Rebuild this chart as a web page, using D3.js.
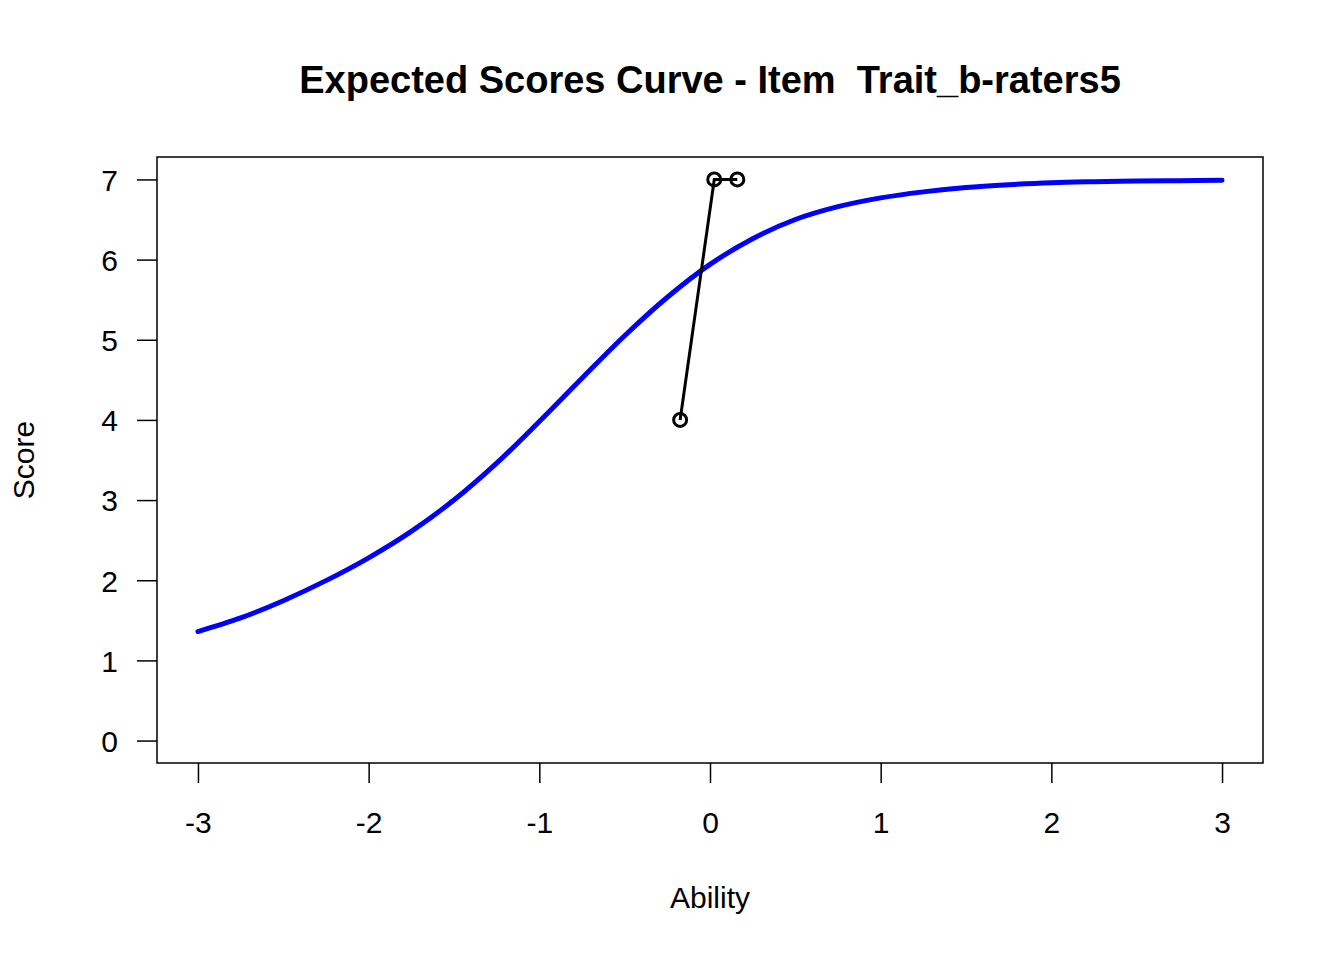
<!DOCTYPE html>
<html>
<head>
<meta charset="utf-8">
<script src="https://cdn.jsdelivr.net/npm/d3@7"></script>
<style>
  html, body { margin: 0; padding: 0; background: #fff; }
  svg { display: block; }
  text { font-family: "Liberation Sans", Arial, Helvetica, sans-serif; fill: #000; white-space: pre; }
</style>
</head>
<body>
<svg id="chart" width="1344" height="960"></svg>
<script>
// ---- Data ----
const chartTitle = "Expected Scores Curve - Item  Trait_b-raters5";
const xLabel = "Ability";
const yLabel = "Score";

// Model expected score curve (blue)
const curveAbility = [-3.0, -2.75, -2.5, -2.25, -2.0, -1.75, -1.5, -1.25, -1.0, -0.75, -0.5, -0.25,
                      0.0, 0.25, 0.5, 0.75, 1.0, 1.25, 1.5, 1.75, 2.0, 2.25, 2.5, 2.75, 3.0];
const curveScore   = [1.36, 1.53, 1.745, 1.995, 2.28, 2.61, 3.00, 3.46, 3.98, 4.52, 5.05, 5.53,
                      5.94, 6.26, 6.50, 6.66, 6.77, 6.845, 6.90, 6.935, 6.96, 6.972, 6.98, 6.985, 6.99];

// Observed scores (black points joined by line)
const obsAbility = [-0.175, 0.025, 0.16];
const obsScore   = [4, 7, 7];

const xTicks = [-3, -2, -1, 0, 1, 2, 3];
const yTicks = [0, 1, 2, 3, 4, 5, 6, 7];
const xTickLabels = ["-3", "-2", "-1", "0", "1", "2", "3"];
const yTickLabels = ["0", "1", "2", "3", "4", "5", "6", "7"];

// ---- Layout ----
const svg = d3.select("#chart");
const plot = { left: 157, right: 1263, top: 157, bottom: 763 };
const fontSize = 30;

// R-style 4% domain extension
const xDomain = [-3, 3], yDomain = [0, 7];
const xPad = (xDomain[1] - xDomain[0]) * 0.04, yPad = (yDomain[1] - yDomain[0]) * 0.04;
const x = d3.scaleLinear().domain([xDomain[0] - xPad, xDomain[1] + xPad]).range([plot.left, plot.right]);
const y = d3.scaleLinear().domain([yDomain[0] - yPad, yDomain[1] + yPad]).range([plot.bottom, plot.top]);

// Axes
const tickLen = 20;
const xAxis = d3.axisBottom(x).tickValues(xTicks).tickSize(tickLen)
  .tickFormat((d, i) => xTickLabels[i]);
const gx = svg.append("g").attr("transform", `translate(0,${plot.bottom})`).call(xAxis);
gx.select(".domain").remove();
gx.selectAll(".tick line").attr("stroke", "#000").attr("stroke-width", 1.5);
gx.selectAll(".tick text").attr("font-size", fontSize).attr("font-family", "Liberation Sans, Arial, sans-serif")
  .attr("fill", "#000").attr("dy", null).attr("y", 70);

const yAxis = d3.axisLeft(y).tickValues(yTicks).tickSize(tickLen).tickPadding(19)
  .tickFormat((d, i) => yTickLabels[i]);
const gy = svg.append("g").attr("transform", `translate(${plot.left},0)`).call(yAxis);
gy.select(".domain").remove();
gy.selectAll(".tick line").attr("stroke", "#000").attr("stroke-width", 1.5);
gy.selectAll(".tick text").attr("font-size", fontSize).attr("font-family", "Liberation Sans, Arial, sans-serif")
  .attr("fill", "#000").attr("dy", "0.36em");

// Plot box
svg.append("rect").attr("x", plot.left).attr("y", plot.top)
  .attr("width", plot.right - plot.left).attr("height", plot.bottom - plot.top)
  .attr("fill", "none").attr("stroke", "#000").attr("stroke-width", 1.5);

// Blue expected curve
const curveData = curveAbility.map((a, i) => [a, curveScore[i]]);
svg.append("path").datum(curveData)
  .attr("d", d3.line().x(d => x(d[0])).y(d => y(d[1])).curve(d3.curveCatmullRom.alpha(0.5)))
  .attr("fill", "none").attr("stroke", "#0000ff").attr("stroke-width", 5)
  .attr("stroke-linecap", "round").attr("stroke-linejoin", "round");

// Observed line + circles
const obsData = obsAbility.map((a, i) => [a, obsScore[i]]);
svg.append("path").datum(obsData)
  .attr("d", d3.line().x(d => x(d[0])).y(d => y(d[1])))
  .attr("fill", "none").attr("stroke", "#000").attr("stroke-width", 3);
svg.append("g").selectAll("circle").data(obsData).join("circle")
  .attr("cx", d => x(d[0])).attr("cy", d => y(d[1])).attr("r", 6.5)
  .attr("fill", "none").attr("stroke", "#000").attr("stroke-width", 3);

// Title and labels
svg.append("text").attr("x", (plot.left + plot.right) / 2).attr("y", 93)
  .attr("text-anchor", "middle").attr("font-size", 38).attr("font-weight", "bold")
  .attr("xml:space", "preserve").text(chartTitle);
svg.append("text").attr("x", (plot.left + plot.right) / 2).attr("y", 908)
  .attr("text-anchor", "middle").attr("font-size", fontSize).text(xLabel);
svg.append("text").attr("transform", `translate(34,${(plot.top + plot.bottom) / 2}) rotate(-90)`)
  .attr("text-anchor", "middle").attr("font-size", fontSize).text(yLabel);
</script>
</body>
</html>
